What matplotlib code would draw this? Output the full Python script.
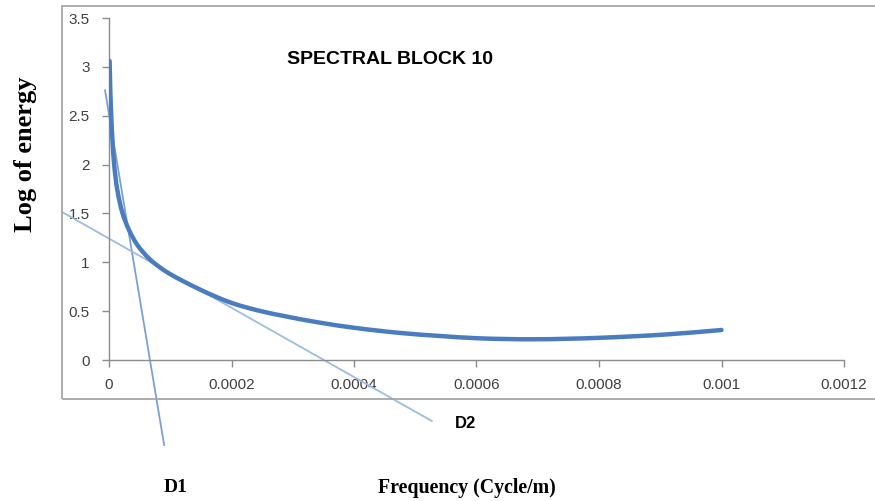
import numpy as np
import matplotlib
matplotlib.use('Agg')
import matplotlib.pyplot as plt
from matplotlib.patches import Rectangle, PathPatch
from matplotlib.path import Path

# curve (Excel smoothed line)
freq = [0.00000098, 0.0000021, 0.0000036, 0.0000056, 0.0000085, 0.0000136,
        0.000022, 0.0000327, 0.0000457, 0.0000555, 0.0000669, 0.0000833,
        0.0000996, 0.0001208, 0.0001486, 0.0001763, 0.0002025, 0.0002433,
        0.0002841, 0.0003445, 0.0004, 0.000475, 0.00054, 0.0006, 0.000692,
        0.0008, 0.000911, 0.001]
log_energy = [3.06, 2.763, 2.507, 2.251, 1.996, 1.740, 1.504, 1.330, 1.182,
              1.105, 1.029, 0.947, 0.880, 0.808, 0.721, 0.643, 0.579, 0.507,
              0.452, 0.382, 0.330, 0.277, 0.246, 0.223, 0.212, 0.227, 0.262,
              0.307]

# tangent lines D1, D2 (end points)
d1_x = [-0.0000065, 0.00009]
d1_y = [2.76, -0.87]
d2_x = [-0.0000768, 0.000527]
d2_y = [1.515, -0.624]

xticks = [0, 0.0002, 0.0004, 0.0006, 0.0008, 0.001, 0.0012]
xtick_labels = ['0', '0.0002', '0.0004', '0.0006', '0.0008', '0.001', '0.0012']
yticks = [0, 0.5, 1, 1.5, 2, 2.5, 3, 3.5]
ytick_labels = ['0', '0.5', '1', '1.5', '2', '2.5', '3', '3.5']

W, H = 875, 501
AX_W, AX_H = 844 - 109, 360 - 18
XMAX, YMAX = 0.0012, 3.5


def smooth_path(xs, ys):
    # smoothed line like Excel: bezier through the points,
    # handles worked out in screen proportions
    sx, sy = AX_W / XMAX, AX_H / YMAX
    p = np.column_stack([np.array(xs) * sx, np.array(ys) * sy])
    seg = np.diff(p, axis=0)
    seg_len = np.hypot(seg[:, 0], seg[:, 1])
    u = seg / seg_len[:, None]
    d = np.vstack([u[:1], u[:-1] + u[1:], u[-1:]])
    d = d / np.hypot(d[:, 0], d[:, 1])[:, None]
    verts = [p[0]]
    codes = [Path.MOVETO]
    for i in range(len(p) - 1):
        h = seg_len[i] / 3.0
        verts += [p[i] + d[i] * h, p[i + 1] - d[i + 1] * h, p[i + 1]]
        codes += [Path.CURVE4] * 3
    verts = np.array(verts) / [sx, sy]
    return Path(verts, codes)


fig = plt.figure(figsize=(W / 100, H / 100), dpi=100)

# outer chart frame (runs off the right edge)
frame = Rectangle((62 / W, 1 - 399 / H), 1.0, (399 - 6) / H,
                  transform=fig.transFigure, fill=False,
                  edgecolor='#a6a6a6', linewidth=1.3)
fig.patches.append(frame)

ax = fig.add_axes([109 / W, 1 - 360 / H, AX_W / W, AX_H / H])
ax.set_xlim(0, XMAX)
ax.set_ylim(0, YMAX)

curve = PathPatch(smooth_path(freq, log_energy), fill=False,
                  edgecolor='#4a7cbf', linewidth=3.2, capstyle='round',
                  joinstyle='round', zorder=3)
ax.add_patch(curve)
ax.plot(d1_x, d1_y, color='#7aa0d4', linewidth=1.3, clip_on=False, zorder=2)
ax.plot(d2_x, d2_y, color='#9ebbe2', linewidth=1.3, clip_on=False, zorder=2)

for s in ['top', 'right']:
    ax.spines[s].set_visible(False)
for s in ['left', 'bottom']:
    ax.spines[s].set_color('#8c8c8c')
    ax.spines[s].set_linewidth(1.0)

ax.set_xticks(xticks)
ax.set_xticklabels(xtick_labels)
ax.set_yticks(yticks)
ax.set_yticklabels(ytick_labels)
ax.tick_params(axis='both', direction='out', length=5, width=1.0,
               color='#8c8c8c', labelcolor='#404040', labelsize=11)
ax.tick_params(axis='x', pad=8)
ax.tick_params(axis='y', pad=9)
for lab in ax.get_xticklabels() + ax.get_yticklabels():
    lab.set_fontfamily('Liberation Sans')

fig.text(390 / W, 1 - 60 / H, 'SPECTRAL BLOCK 10', fontfamily='Liberation Sans',
         fontweight='bold', fontsize=14, ha='center', va='center')
fig.text(26 / W, 1 - 154 / H, 'Log of energy', fontfamily='Liberation Serif',
         fontweight='bold', fontsize=19, rotation=90, ha='center', va='center')
fig.text(467 / W, 1 - 488 / H, 'Frequency (Cycle/m)', fontfamily='Liberation Serif',
         fontweight='bold', fontsize=14.3, ha='center', va='center')
fig.text(176 / W, 1 - 487 / H, 'D1', fontfamily='Liberation Serif',
         fontweight='bold', fontsize=14, ha='center', va='center')
fig.text(466 / W, 1 - 423 / H, 'D2', fontfamily='Liberation Sans',
         fontweight='bold', fontsize=12, ha='center', va='center')

fig.savefig('out.png', dpi=100)
